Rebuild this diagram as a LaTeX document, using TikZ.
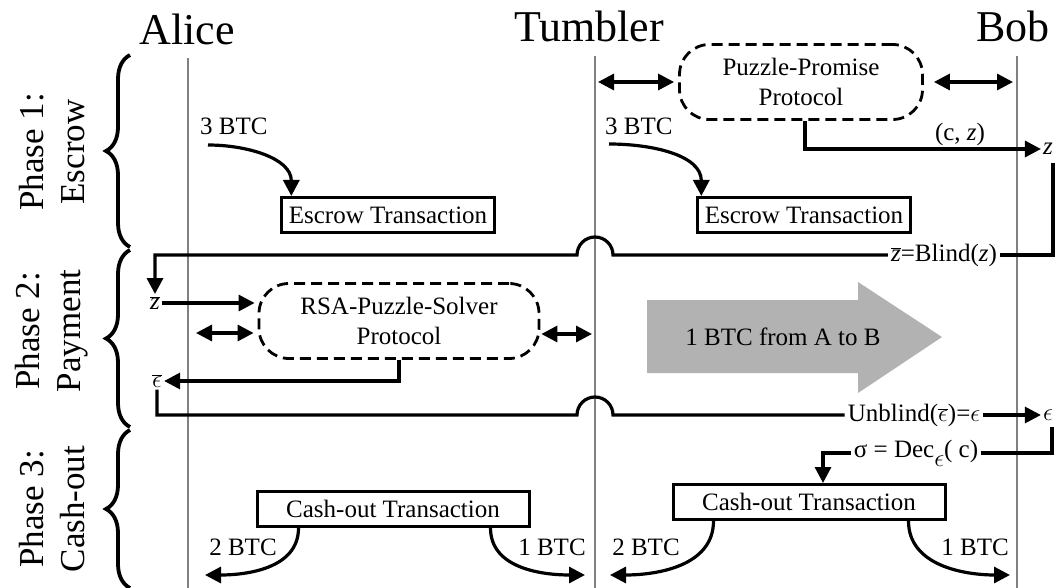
\documentclass[tikz,border=0pt]{standalone}
\usepackage{fontspec}
\setmainfont{Liberation Serif}
\usepackage{tikz}
\usetikzlibrary{arrows.meta}
\usetikzlibrary{calc}
\usetikzlibrary{decorations.pathreplacing}
\newcommand{\zbar}{$\overline{\mbox{\textit{z}}}$}
\newcommand{\eps}{{\fontsize{30}{30}\selectfont$\epsilon$}}
\newcommand{\ebar}{{\fontsize{30}{30}\selectfont$\overline{\epsilon}$}}

\begin{document}
\begin{tikzpicture}[x=1pt, y=1pt,
    title/.style={font=\fontsize{44}{50}\selectfont, anchor=base},
    phase/.style={rotate=90, align=center, font=\fontsize{35}{41}\selectfont},
    lbl/.style={font=\fontsize{25}{30}\selectfont, inner sep=2pt},
    box/.style={lbl, draw, line width=3pt, minimum height=35pt, inner xsep=7pt},
    proto/.style={lbl, draw, align=center, line width=2.8pt, dash pattern=on 11pt off 6pt, rounded corners=30pt, minimum height=75pt},
    life/.style={draw=black!50, line width=2.5pt},
    wire/.style={line width=3.2pt},
    flow/.style={wire, -{Triangle[length=16pt,width=16pt]}},
    dflow/.style={wire, {Triangle[length=16pt,width=16pt]}-{Triangle[length=16pt,width=16pt]}},
    brc/.style={decorate, decoration={brace, amplitude=24pt}, line width=3.8pt}] % Tumbler phases

      \useasboundingbox (0,0) rectangle (1055,-588);

      % parties and lifelines
      \node [title] (alice) at (187,-45) {Alice};
      \node [title] (tumbler) at (589,-42) {Tumbler};
      \node [title] (bob) at (1013,-42) {Bob};
      \coordinate (aTop) at (188,-58);
      \coordinate (tTop) at (595,-56);
      \coordinate (bTop) at (1017,-56);
      \draw [life] (aTop) -- ++(0,-530);
      \draw [life] (tTop) -- ++(0,-532);
      \draw [life] (bTop) -- ++(0,-532);

      % phases
      \draw [brc] (130,-247) -- (130,-55);
      \draw [brc] (130,-427) -- (130,-250);
      \draw [brc] (130,-588) -- (130,-430);
      \node [phase] (ph1) at (52,-152) {Phase 1:\\Escrow};
      \node [phase] (ph2) at (52,-331) {Phase 2:\\Payment};
      \node [phase] (ph3) at (52,-509) {Phase 3:\\Cash-out};

      % phase 1
      \node [lbl, anchor=base west] (btcA) at (198,-135) {3 BTC};
      \node [lbl, anchor=base west] (btcT) at (603,-135) {3 BTC};
      \node [box] (escA) at (388,-215) {Escrow Transaction};
      \node [box] (escT) at (804,-215) {Escrow Transaction};
      \draw [flow] ([xshift=10pt,yshift=-10pt]btcA.base west) to[out=0, in=90] ([xshift=11pt]escA.north west);
      \draw [flow] ([xshift=6pt,yshift=-9pt]btcT.base west) to[out=0, in=90] ([xshift=5pt]escT.north west);
      \node [proto, minimum width=243pt] (pp) at (801,-82) {Puzzle-Promise\\Protocol};
      \draw [dflow] ($(tTop |- pp.west)+(3,0)$) -- ($(pp.west)+(-4,0)$);
      \draw [dflow] ($(pp.east)+(10,0)$) -- ($(bTop |- pp.east)+(-4,0)$);
      \node [lbl] (zB) at (1048,-149) {\textit{z}};
      \node [lbl] (cz) at (960,-134) {(c, \textit{z})};
      \draw [flow] ($(pp.south)+(4,0)$) |- (zB.west);

      % phase 2
      \node [lbl, inner sep=3pt] (blind) at (944,-255) {\zbar=Blind(\textit{z})};
      \draw [wire] ($(zB.south)+(5,-6)$) |- (blind.east);
      \node [lbl] (zA) at (155,-303) {\zbar};
      \draw [flow] (blind.west) -- ($(tTop |- blind.west)+(18,0)$) arc[start angle=0, end angle=180, radius=18] -| (zA.north);
      \node [proto, minimum width=280pt] (rsa) at (399,-321) {RSA-Puzzle-Solver\\Protocol};
      \draw [flow] (zA.east) -- ($(zA.east -| rsa.west)+(-3,0)$);
      \draw [dflow] ($(aTop |- rsa.west)+(8,-12)$) -- ($(rsa.west)+(-4,-12)$);
      \draw [dflow] ($(rsa.east)+(1,-13)$) -- ($(tTop |- rsa.east)+(-3,-13)$);
      \node [lbl] (eA) at (157,-381) {\ebar};
      \draw [flow] (rsa.south) |- (eA.east);
      \node [lbl, inner sep=3pt] (unbl) at (914,-415) {Unblind(\ebar)=\eps};
      \draw [wire] (eA.south) |- ($(tTop |- unbl.west)+(-18,0)$) arc[start angle=180, end angle=0, radius=18] -- (unbl.west);
      \node [lbl] (eB) at (1048,-415) {\eps};
      \draw [flow] (unbl.east) -- (eB.west);
      \fill [black!30] (647,-300) -- (858,-300) -- (858,-282) -- (942,-337)
        -- (858,-393) -- (858,-373) -- (647,-373) -- cycle;
      \node [lbl] (pay) at (783,-337) {1 BTC from A to B};

      % phase 3
      \node [lbl, inner sep=3pt] (dec) at (916,-453) {σ = Dec\raisebox{-9pt}{\eps}( c)};
      \draw [wire] ($(eB.south)+(4,-4)$) |- (dec.east);
      \node [box, minimum width=272pt] (coA) at (393,-509) {Cash-out Transaction};
      \node [box, minimum width=272pt] (coB) at (809,-502) {Cash-out Transaction};
      \draw [flow] (dec.west) -| ($(coB.north)+(14,0)$);
      \coordinate (outA2) at (205,-575);
      \coordinate (outA1) at (585,-575);
      \coordinate (outT2) at (610,-575);
      \coordinate (outT1) at (1010,-575);
      \node [lbl] (btcA2) at (243,-547) {2 BTC};
      \node [lbl] (btcA1) at (552,-547) {1 BTC};
      \node [lbl] (btcT2) at (646,-547) {2 BTC};
      \node [lbl] (btcT1) at (975,-547) {1 BTC};
      \draw [flow] ($(coA.south west)+(43,0)$) to[out=-90, in=0] (outA2);
      \draw [flow] ($(coA.south east)+(-40,0)$) to[out=-90, in=180] (outA1);
      \draw [flow] ($(coB.south west)+(42,0)$) to[out=-90, in=0] (outT2);
      \draw [flow] ($(coB.south east)+(-38,0)$) to[out=-90, in=180] (outT1);

\end{tikzpicture}
\end{document}
